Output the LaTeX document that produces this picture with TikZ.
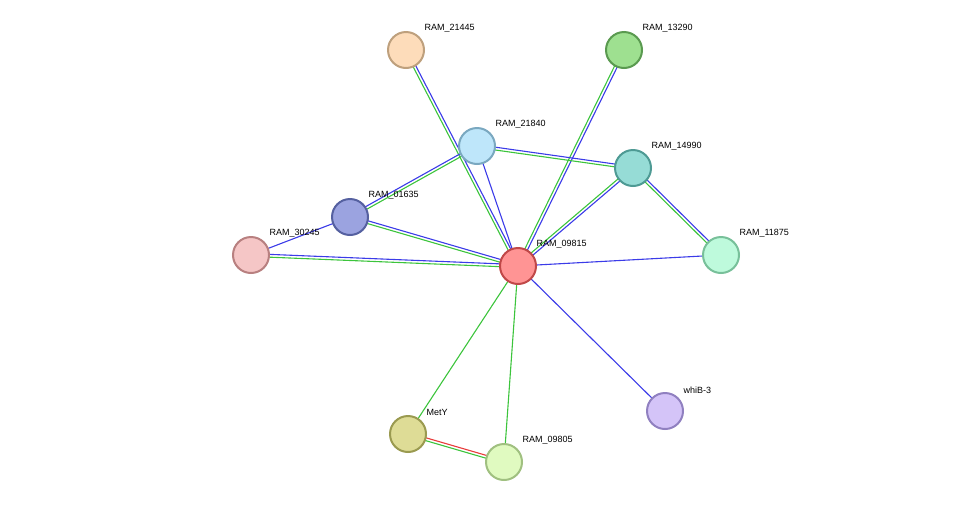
\documentclass[tikz,border=0pt]{standalone}
\usepackage{fontspec}
\setmainfont{Liberation Sans}
\usetikzlibrary{calc}
\definecolor{eb}{HTML}{3B3BE8}
\definecolor{eg}{HTML}{3CC43C}
\definecolor{er}{HTML}{E83B3B}
\newcommand{\pairedge}[4]{%
 \draw[#3,line width=1.1pt] ($(#1)!1.4pt!90:(#2)$) -- ($(#2)!1.4pt!-90:(#1)$);
 \draw[#4,line width=1.1pt] ($(#1)!1.4pt!-90:(#2)$) -- ($(#2)!1.4pt!90:(#1)$);}
\newcommand{\oneedge}[3]{\draw[#3,line width=1.1pt] (#1) -- (#2);}
\begin{document}
\begin{tikzpicture}[x=1pt,y=-1pt,
 prot/.style={circle,minimum size=36pt,inner sep=0pt,line width=2pt},
 lab/.style={anchor=west,font=\fontsize{9}{10}\selectfont}]
\useasboundingbox (0,0) rectangle (976,507);
\coordinate (a) at (406,50);
\coordinate (b) at (624,50);
\coordinate (c) at (477,146);
\coordinate (d) at (633,168);
\coordinate (e) at (350,217);
\coordinate (f) at (251,255);
\coordinate (g) at (518,266);
\coordinate (h) at (721,255);
\coordinate (i) at (665,411);
\coordinate (j) at (408,434);
\coordinate (k) at (504,462);
\pairedge{a}{g}{eb}{eg}
\pairedge{b}{g}{eb}{eg}
\oneedge{c}{g}{eb}
\pairedge{c}{d}{eb}{eg}
\pairedge{c}{e}{eg}{eb}
\pairedge{d}{g}{eb}{eg}
\pairedge{d}{h}{eb}{eg}
\oneedge{e}{f}{eb}
\pairedge{e}{g}{eb}{eg}
\pairedge{f}{g}{eb}{eg}
\oneedge{g}{h}{eb}
\oneedge{g}{i}{eb}
\oneedge{g}{j}{eg}
\oneedge{g}{k}{eg}
\pairedge{j}{k}{er}{eg}
\node[prot,fill={rgb,255:red,253;green,220;blue,186},draw={rgb,255:red,190;green,160;blue,125}] (na) at (a) {};
\node[prot,fill={rgb,255:red,158;green,224;blue,144},draw={rgb,255:red,90;green,154;blue,80}] (nb) at (b) {};
\node[prot,fill={rgb,255:red,190;green,230;blue,250},draw={rgb,255:red,122;green,168;blue,192}] (nc) at (c) {};
\node[prot,fill={rgb,255:red,150;green,220;blue,214},draw={rgb,255:red,78;green,154;blue,148}] (nd) at (d) {};
\node[prot,fill={rgb,255:red,155;green,163;blue,224},draw={rgb,255:red,85;green,96;blue,160}] (ne) at (e) {};
\node[prot,fill={rgb,255:red,245;green,198;blue,198},draw={rgb,255:red,184;green,128;blue,128}] (nf) at (f) {};
\node[prot,fill={rgb,255:red,255;green,148;blue,148},draw={rgb,255:red,192;green,72;blue,72}] (ng) at (g) {};
\node[prot,fill={rgb,255:red,190;green,250;blue,220},draw={rgb,255:red,120;green,192;blue,154}] (nh) at (h) {};
\node[prot,fill={rgb,255:red,212;green,196;blue,248},draw={rgb,255:red,144;green,128;blue,192}] (ni) at (i) {};
\node[prot,fill={rgb,255:red,222;green,220;blue,150},draw={rgb,255:red,154;green,154;blue,80}] (nj) at (j) {};
\node[prot,fill={rgb,255:red,224;green,250;blue,192},draw={rgb,255:red,160;green,192;blue,128}] (nk) at (k) {};
\node[lab] (la) at (421,28) {RAM\_21445};
\node[lab] (lb) at (639,28) {RAM\_13290};
\node[lab] (lc) at (492,124) {RAM\_21840};
\node[lab] (ld) at (648,146) {RAM\_14990};
\node[lab] (le) at (365,195) {RAM\_01635};
\node[lab] (lf) at (266,233) {RAM\_30245};
\node[lab] (lg) at (533,244) {RAM\_09815};
\node[lab] (lh) at (736,233) {RAM\_11875};
\node[lab] (li) at (680,390) {whiB-3};
\node[lab] (lj) at (423,412) {MetY};
\node[lab] (lk) at (519,440) {RAM\_09805};
\end{tikzpicture}
\end{document}
